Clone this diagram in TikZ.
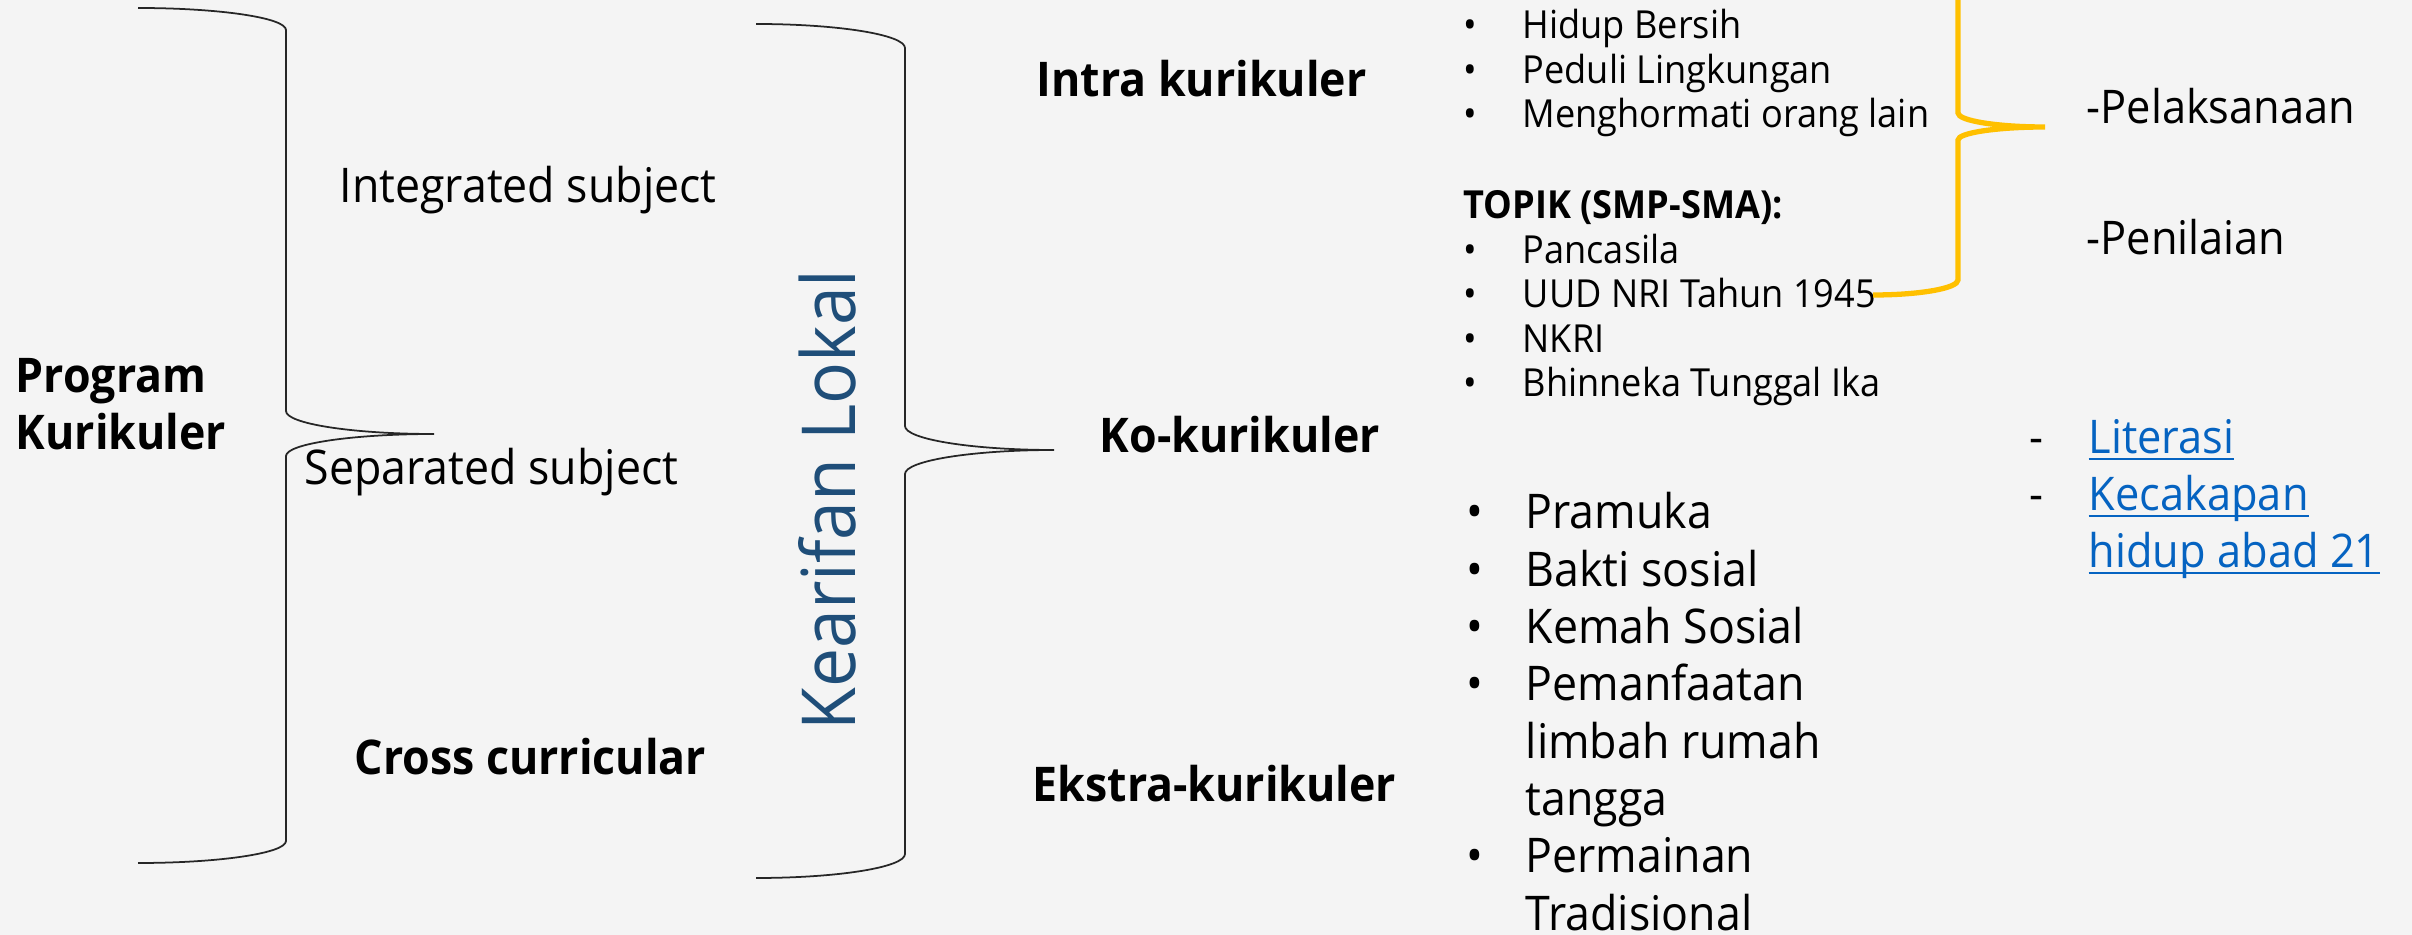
\documentclass[tikz,border=0pt]{standalone}
\usepackage{fontspec}
\setmainfont{Open Sans}[FakeStretch=0.935]
\usetikzlibrary{positioning}
\definecolor{latar}{RGB}{244,244,244}
\definecolor{kuning}{RGB}{255,192,0}
\definecolor{birutua}{RGB}{31,78,121}
\definecolor{tautan}{RGB}{5,99,193}
\newcommand{\butir}{\makebox[0.59cm][l]{\textbullet}}
\newcommand{\strip}{\makebox[0.59cm][l]{-}}
\newsavebox{\kotaktautan}
\newcommand{\tautan}[1]{\sbox{\kotaktautan}{\color{tautan}#1}%
  {\color{tautan}\rlap{\rule[-1.8pt]{\wd\kotaktautan}{0.6pt}}\usebox{\kotaktautan}}}

\begin{document}
\begin{tikzpicture}[
    label/.style={
      inner sep=0pt,
      anchor=base west,
      align=left,
      font=\fontsize{13.6}{16.5}\selectfont
    },
    judul/.style={
      label,
      font=\fontsize{13.6}{16.5}\selectfont\bfseries
    },
    kecil/.style={
      label,
      font=\fontsize{11}{12.7}\selectfont
    },
    kurung/.style={
      line width=0.5pt,
      black!85
    },
    kurungkuning/.style={
      line width=1.5pt,
      kuning
    }
  ]

  % Background
  \fill[latar] (0,0) rectangle (24.12,9.35);
  \useasboundingbox (0,0) rectangle (24.12,9.35);

  % Program kurikuler (base = last line)
  \node[judul] (program) at (0.15,4.85) {Program\\Kurikuler};

  \coordinate (pk-atas) at (1.38,9.27);
  \draw[kurung] (pk-atas)
    arc[start angle=90,end angle=0,x radius=1.48,y radius=0.22]
    -- (2.86,5.24)
    arc[start angle=180,end angle=270,x radius=1.48,y radius=0.23]
    coordinate (pk-ujung)
    arc[start angle=90,end angle=180,x radius=1.48,y radius=0.22]
    -- (2.86,0.94)
    arc[start angle=0,end angle=-90,x radius=1.48,y radius=0.22]
    coordinate (pk-bawah);

  \node[label] (integrated) at (3.39,7.32) {Integrated subject};
  \node[label] (separated) at (3.04,4.50) {Separated subject};
  \node[judul] (cross) at (3.54,1.60) {Cross curricular};

  % Kearifan lokal
  \node[label,anchor=base,rotate=90,text=birutua,
        font=\fontsize{21.2}{25}\selectfont] (kearifan) at (8.55,4.35)
    {Kearifan Lokal};

  \coordinate (kl-atas) at (7.56,9.11);
  \draw[kurung] (kl-atas)
    arc[start angle=90,end angle=0,x radius=1.49,y radius=0.24]
    -- (9.05,5.09)
    arc[start angle=180,end angle=270,x radius=1.49,y radius=0.24]
    coordinate (kl-ujung)
    arc[start angle=90,end angle=180,x radius=1.49,y radius=0.24]
    -- (9.05,0.81)
    arc[start angle=0,end angle=-90,x radius=1.49,y radius=0.24]
    coordinate (kl-bawah);

  \node[judul] (intra) at (10.36,8.38) {Intra kurikuler};
  \node[judul] (ko) at (10.99,4.82) {Ko-kurikuler};
  \node[judul] (ekstra) at (10.32,1.33) {Ekstra-kurikuler};

  % Isi intra kurikuler
  \node[kecil] (nilai) at (14.63,8.07)
    {\butir Hidup Bersih\\
     \butir Peduli Lingkungan\\
     \butir Menghormati orang lain};
  \node[kecil] (topik) at (14.63,5.38)
    {\textbf{TOPIK (SMP-SMA):}\\
     \butir Pancasila\\
     \butir UUD NRI Tahun 1945\\
     \butir NKRI\\
     \butir Bhinneka Tunggal Ika};

  \coordinate (ky-atas) at (19.58,9.45);
  \draw[kurungkuning] (ky-atas) -- (19.58,8.22)
    arc[start angle=180,end angle=270,x radius=0.87,y radius=0.14]
    coordinate (ky-ujung)
    arc[start angle=90,end angle=180,x radius=0.87,y radius=0.13]
    -- (19.58,6.55)
    arc[start angle=0,end angle=-90,x radius=0.85,y radius=0.15]
    coordinate (ky-bawah);

  \node[label,font=\fontsize{13.2}{16}\selectfont] (pelaksanaan) at (20.86,8.11)
    {-Pelaksanaan};
  \node[label,font=\fontsize{13.2}{16}\selectfont] (penilaian) at (20.86,6.80)
    {-Penilaian};

  % Isi ekstra kurikuler
  \node[label,font=\fontsize{13.6}{16.3}\selectfont] (kegiatan) at (14.66,0.05)
    {\butir Pramuka\\
     \butir Bakti sosial\\
     \butir Kemah Sosial\\
     \butir Pemanfaatan\\
     \hspace*{0.59cm}limbah rumah\\
     \hspace*{0.59cm}tangga\\
     \butir Permainan\\
     \hspace*{0.59cm}Tradisional};

  % Ko kurikuler
  \node[label,font=\fontsize{13.2}{16.3}\selectfont] (literasi) at (20.29,3.67)
    {\strip\tautan{Literasi}\\
     \strip\tautan{Kecakapan}\\
     \hspace*{0.59cm}\tautan{hidup abad 21}};

\end{tikzpicture}
\end{document}
